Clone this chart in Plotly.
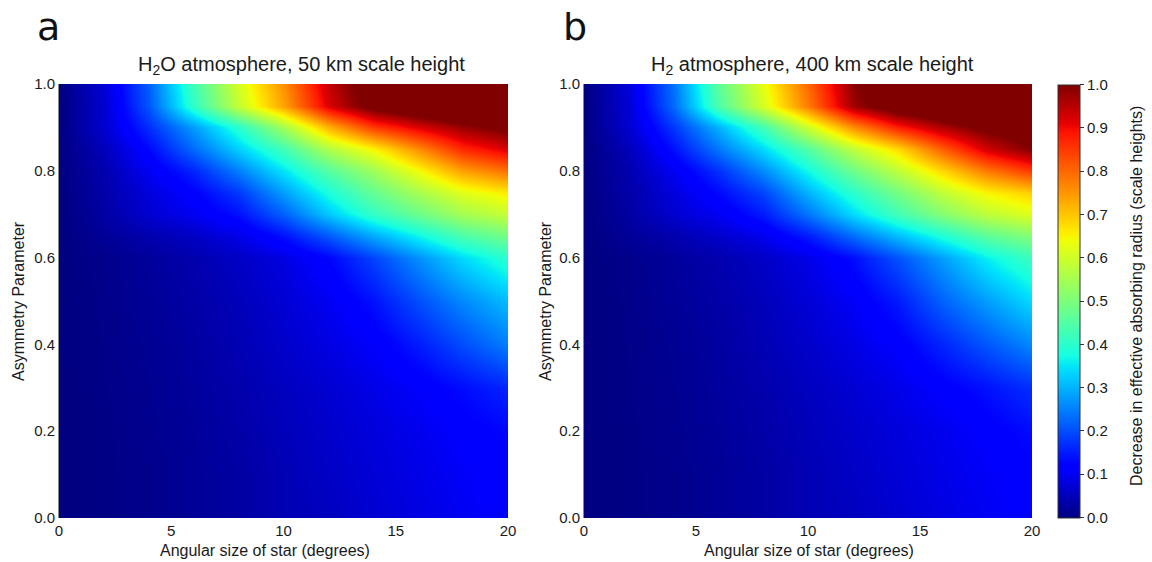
import numpy as np
import plotly.graph_objects as go

# Angular size of the star (degrees) and asymmetry parameter grid
angle_deg = [0, 2, 4, 6, 8, 10, 12, 14, 16, 18, 20]
asymmetry = [0.0, 0.1, 0.2, 0.3, 0.4, 0.5, 0.6, 0.65, 0.7, 0.75, 0.8, 0.85, 0.9, 0.95, 1.0]

# Decrease in effective absorbing radius (scale heights), rows follow `asymmetry`
h2o_decrease = [
    [0.0, 0.005, 0.010, 0.020, 0.030, 0.045, 0.055, 0.070, 0.085, 0.100, 0.115],
    [0.0, 0.005, 0.010, 0.020, 0.030, 0.045, 0.060, 0.075, 0.090, 0.105, 0.120],
    [0.0, 0.005, 0.012, 0.022, 0.034, 0.050, 0.065, 0.080, 0.095, 0.115, 0.130],
    [0.0, 0.006, 0.014, 0.025, 0.038, 0.055, 0.070, 0.090, 0.110, 0.135, 0.160],
    [0.0, 0.007, 0.016, 0.028, 0.045, 0.065, 0.085, 0.110, 0.150, 0.200, 0.250],
    [0.0, 0.008, 0.020, 0.033, 0.050, 0.072, 0.100, 0.140, 0.200, 0.260, 0.310],
    [0.0, 0.010, 0.024, 0.040, 0.060, 0.085, 0.125, 0.190, 0.265, 0.340, 0.400],
    [0.0, 0.020, 0.040, 0.060, 0.090, 0.140, 0.210, 0.290, 0.365, 0.440, 0.490],
    [0.0, 0.030, 0.070, 0.100, 0.140, 0.220, 0.320, 0.410, 0.480, 0.550, 0.590],
    [0.0, 0.035, 0.080, 0.120, 0.180, 0.280, 0.380, 0.470, 0.550, 0.620, 0.660],
    [0.0, 0.040, 0.100, 0.160, 0.250, 0.350, 0.450, 0.540, 0.640, 0.740, 0.790],
    [0.0, 0.050, 0.130, 0.230, 0.330, 0.430, 0.560, 0.650, 0.760, 0.870, 0.920],
    [0.0, 0.070, 0.170, 0.280, 0.400, 0.550, 0.720, 0.850, 0.920, 0.980, 1.020],
    [0.0, 0.070, 0.210, 0.410, 0.590, 0.740, 0.920, 1.030, 1.080, 1.120, 1.150],
    [0.0, 0.075, 0.220, 0.430, 0.610, 0.760, 0.940, 1.050, 1.100, 1.150, 1.200],
]

h2_decrease = [
    [0.0, 0.005, 0.010, 0.020, 0.030, 0.045, 0.055, 0.070, 0.085, 0.100, 0.115],
    [0.0, 0.005, 0.010, 0.020, 0.030, 0.045, 0.060, 0.075, 0.090, 0.105, 0.120],
    [0.0, 0.005, 0.012, 0.022, 0.034, 0.050, 0.065, 0.080, 0.095, 0.115, 0.135],
    [0.0, 0.006, 0.014, 0.025, 0.038, 0.055, 0.072, 0.092, 0.115, 0.140, 0.170],
    [0.0, 0.007, 0.016, 0.028, 0.045, 0.065, 0.088, 0.115, 0.160, 0.210, 0.260],
    [0.0, 0.008, 0.020, 0.033, 0.050, 0.075, 0.105, 0.150, 0.220, 0.280, 0.340],
    [0.0, 0.010, 0.024, 0.040, 0.062, 0.090, 0.135, 0.205, 0.280, 0.360, 0.420],
    [0.0, 0.020, 0.040, 0.065, 0.095, 0.150, 0.230, 0.310, 0.385, 0.460, 0.510],
    [0.0, 0.030, 0.070, 0.100, 0.150, 0.240, 0.340, 0.430, 0.510, 0.580, 0.620],
    [0.0, 0.035, 0.080, 0.130, 0.190, 0.300, 0.400, 0.490, 0.580, 0.650, 0.690],
    [0.0, 0.040, 0.100, 0.170, 0.260, 0.370, 0.480, 0.580, 0.680, 0.780, 0.850],
    [0.0, 0.050, 0.140, 0.240, 0.340, 0.450, 0.580, 0.680, 0.810, 0.930, 1.000],
    [0.0, 0.070, 0.180, 0.300, 0.430, 0.600, 0.760, 0.880, 0.960, 1.020, 1.050],
    [0.0, 0.075, 0.230, 0.440, 0.610, 0.780, 0.970, 1.060, 1.100, 1.150, 1.180],
    [0.0, 0.080, 0.240, 0.460, 0.630, 0.800, 0.990, 1.080, 1.130, 1.180, 1.220],
]

panel_titles = ["H<sub>2</sub>O atmosphere, 50 km scale height",
                "H<sub>2</sub> atmosphere, 400 km scale height"]
panel_letters = ["a", "b"]
x_title = "Angular size of star (degrees)"
y_title = "Asymmetry Parameter"
cbar_title = "Decrease in effective absorbing radius (scale heights)"
x_ticks = [0, 5, 10, 15, 20]
y_ticks = [0.0, 0.2, 0.4, 0.6, 0.8, 1.0]
cbar_ticks = [round(0.1 * i, 1) for i in range(11)]


# Classic "jet" colour map, piecewise linear per channel
def _jet_colorscale():
    red = [(0, 0), (0.35, 0), (0.66, 1), (0.89, 1), (1, 0.5)]
    green = [(0, 0), (0.125, 0), (0.375, 1), (0.64, 1), (0.91, 0), (1, 0)]
    blue = [(0, 0.5), (0.11, 1), (0.34, 1), (0.65, 0), (1, 0)]
    stops = sorted({p for seg in (red, green, blue) for p, _ in seg})

    def chan(seg, t):
        xs, vs = zip(*seg)
        return float(np.interp(t, xs, vs))

    return [[t, "rgb(%d,%d,%d)" % tuple(round(255 * chan(s, t)) for s in (red, green, blue))]
            for t in stops]


jet = _jet_colorscale()
W, H = 1152, 562
font_main = "Liberation Sans, Arial, sans-serif"
text_col = "#1a1a1a"

# plot-area pixel boxes (left, right), common top/bottom, and text centres
panels_px = [(59, 508), (584, 1032)]
top_px, bottom_px = 84, 518
title_cx = [301, 812]
xtitle_cx = [265, 809]
ytitle_cx = [18, 545]
letter_cx = [48, 575]

fig = go.Figure()
for i, z in enumerate([h2o_decrease, h2_decrease]):
    fig.add_trace(go.Heatmap(
        x=angle_deg, y=asymmetry, z=z,
        zmin=0, zmax=1, zsmooth="best", colorscale=jet,
        xaxis="x" if i == 0 else "x2", yaxis="y" if i == 0 else "y2",
        showscale=(i == 1),
        colorbar=dict(
            x=1058 / W, xanchor="left", xref="paper", xpad=0, ypad=0,
            y=1 - (top_px + bottom_px) / 2 / H, yanchor="middle",
            lenmode="pixels", len=bottom_px - top_px - 1,
            thicknessmode="pixels", thickness=22,
            outlinecolor="#333333", outlinewidth=1,
            tickmode="array", tickvals=cbar_ticks,
            ticktext=["%.1f" % v for v in cbar_ticks],
            ticks="outside", ticklen=4, tickcolor="#333333",
            tickfont=dict(family=font_main, size=15, color=text_col),
        ),
    ))

axis_common = dict(showgrid=False, zeroline=False, ticks="", automargin=False,
                   tickfont=dict(family=font_main, size=15, color=text_col))

layout = dict(
    width=W, height=H, margin=dict(l=0, r=0, t=0, b=0),
    paper_bgcolor="white", plot_bgcolor="white",
    font=dict(family=font_main, color=text_col),
    annotations=[],
)


def _note(text, cx, cy, size, angle=0, family=font_main, color=text_col):
    return dict(text=text, x=cx / W, y=1 - cy / H, xref="paper", yref="paper",
                showarrow=False, xanchor="center", yanchor="middle", textangle=angle,
                font=dict(family=family, size=size, color=color))


for i, (x0, x1) in enumerate(panels_px):
    sx = "" if i == 0 else "2"
    layout["xaxis" + sx] = dict(
        axis_common, domain=[x0 / W, x1 / W], range=[0, 20],
        anchor="y" + sx, tickvals=x_ticks, ticklabelstandoff=2, showline=False,
    )
    layout["yaxis" + sx] = dict(
        axis_common, domain=[1 - bottom_px / H, 1 - top_px / H], range=[0, 1],
        anchor="x" + sx, tickvals=y_ticks,
        ticktext=["%.1f" % v for v in y_ticks],
        showline=True, linecolor="#888888", linewidth=1,
    )
    layout["annotations"] += [
        _note(panel_titles[i], title_cx[i], 66, 20),
        _note(x_title, xtitle_cx[i], 550, 16),
        _note(y_title, ytitle_cx[i], (top_px + bottom_px) / 2, 16, angle=-90),
        _note(panel_letters[i], letter_cx[i], 27, 38,
              family="DejaVu Sans, sans-serif", color="#111111"),
    ]

# colour-bar label, set beside the tick labels
layout["annotations"].append(_note(cbar_title, 1136, 296, 16, angle=-90))

fig.update_layout(**layout)
fig.write_html("out.html")
